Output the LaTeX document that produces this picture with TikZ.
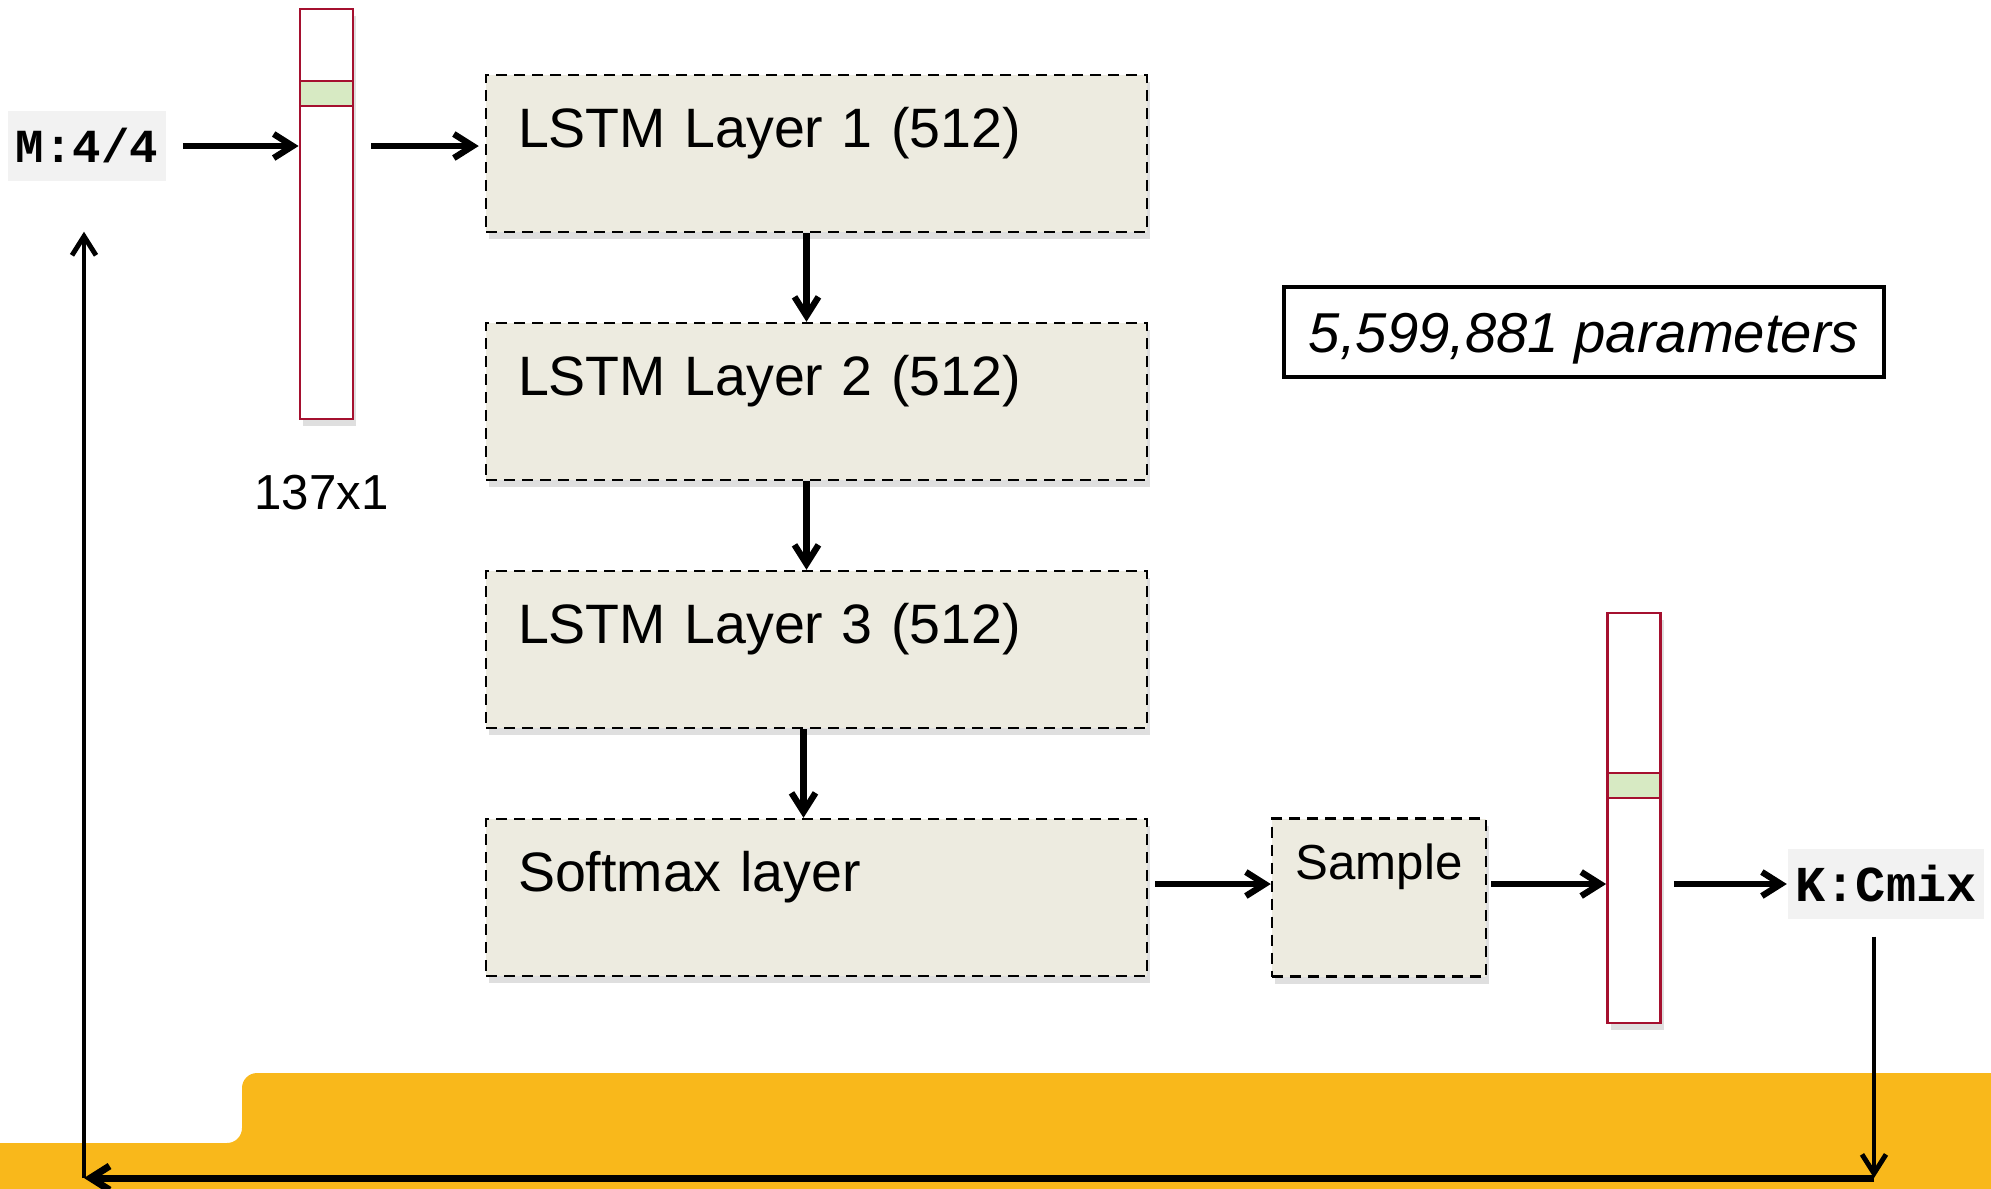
\documentclass[tikz,border=0pt]{standalone}
\usepackage{fontspec}
\setmainfont{Liberation Sans}
\newfontfamily\tokfont{Liberation Mono}
\usetikzlibrary{arrows.meta,shadows,positioning}

\definecolor{layerfill}{RGB}{237,235,224}
\definecolor{vecred}{RGB}{165,16,47}
\definecolor{hotgreen}{RGB}{215,234,195}
\definecolor{bandyellow}{RGB}{249,184,27}

\begin{document}
\begin{tikzpicture}[>={Straight Barb[length=1.9mm,width=2.4mm]},
  layer/.style = {draw, dash pattern=on 1.1mm off 0.7mm, line width=0.7pt, fill=layerfill,
    minimum width=6.61cm, minimum height=1.57cm, text width=5.97cm, inner xsep=0.32cm,
    align=left, text height=0.41cm, text depth=0.54cm, font=\fontsize{15.8}{19}\selectfont,
    drop shadow={shadow xshift=0.3mm, shadow yshift=-0.7mm, opacity=0.25}},
  vec/.style = {draw=vecred, line width=0.8pt, fill=white, minimum width=0.53cm,
    minimum height=4.1cm, inner sep=0pt,
    drop shadow={shadow xshift=0.3mm, shadow yshift=-0.7mm, opacity=0.25}},
  hot/.style = {draw=vecred, line width=0.8pt, fill=hotgreen, minimum width=0.53cm,
    minimum height=0.25cm, inner sep=0pt, anchor=north},
  tok/.style = {fill=black!5, inner xsep=0.08cm, minimum height=0.7cm, font=\tokfont\bfseries},
  flow/.style = {->, line width=1.8pt},
  fb/.style = {->, line width=1.4pt}]

\useasboundingbox (0,0) rectangle (19.91,-11.88);

% yellow band at the bottom
\fill[bandyellow, rounded corners=1.5mm] (-1,-11.43) -- (2.42,-11.43) -- (2.42,-10.73)
  -- (21,-10.73) -- (21,-13) -- (-1,-13) -- cycle;

\node[layer] (l1) at (8.165,-1.535) {LSTM Layer 1 (512)};
\node[layer] (l2) [below of=l1][node distance=2.48cm] {LSTM Layer 2 (512)};
\node[layer] (l3) [below of=l2][node distance=2.48cm] {LSTM Layer 3 (512)};
\node[layer] (soft) [below of=l3][node distance=2.48cm] {Softmax layer};
\node[layer, minimum width=2.14cm, minimum height=1.58cm, text width=, inner xsep=0pt,
  align=center, text height=0.36cm, text depth=0.72cm, font=\fontsize{14}{17}\selectfont]
  (sample) [right of=soft][node distance=5.625cm] {Sample};

\node[vec] (vin) at (3.265,-2.14) {};
\node[hot] (hin) at ([yshift=-0.72cm]vin.north) {};
\node (dims) [below of=vin][node distance=2.79cm, xshift=-0.05cm] {\fontsize{14}{17}\selectfont 137x1};

\node[vec] (vout) at (16.34,-8.18) {};
\node[hot] (hout) at ([yshift=-1.6cm]vout.north) {};

\node[tok, font=\tokfont\bfseries\fontsize{13.5}{16}\selectfont] (m44) at (0.87,-1.46) {M:4/4};
\node[tok, font=\tokfont\bfseries\fontsize{14.3}{17}\selectfont] (kcmix) at (18.86,-8.84) {K:Cmix};

\node[draw, line width=1.2pt, minimum width=6cm, minimum height=0.9cm,
  text height=0.46cm, text depth=0.06cm,
  font=\itshape\fontsize{16}{19}\selectfont] (params) at (15.84,-3.32) {5,599,881 parameters};

\coordinate (cr) at (18.74,-11.78);
\coordinate (cl) at (0.84,-11.78);

\draw[flow, shorten <=0.16cm] (m44) -- (vin.west |- m44);
\draw[flow, shorten <=0.17cm, shorten >=0.06cm] (vin.east |- m44) -- (l1.west |- m44);
\draw[flow] ([xshift=-0.1cm]l1.south) -- ([xshift=-0.1cm]l2.north);
\draw[flow] ([xshift=-0.1cm]l2.south) -- ([xshift=-0.1cm]l3.north);
\draw[flow] ([xshift=-0.13cm]l3.south) -- ([xshift=-0.13cm]soft.north);
\draw[flow, shorten <=0.07cm] (soft.east |- kcmix) -- (sample.west |- kcmix);
\draw[flow, shorten <=0.04cm] (sample.east |- kcmix) -- (vout.west |- kcmix);
\draw[flow, shorten <=0.12cm] (vout.east |- kcmix) -- (kcmix);

\draw[fb, shorten <=0.17cm] (kcmix.south -| cr) -- (cr);
\draw[->, line width=2pt] (cr) -- (cl);
\draw[fb, shorten >=0.5cm] (cl) -- (m44.south -| cl);

\end{tikzpicture}
\end{document}
